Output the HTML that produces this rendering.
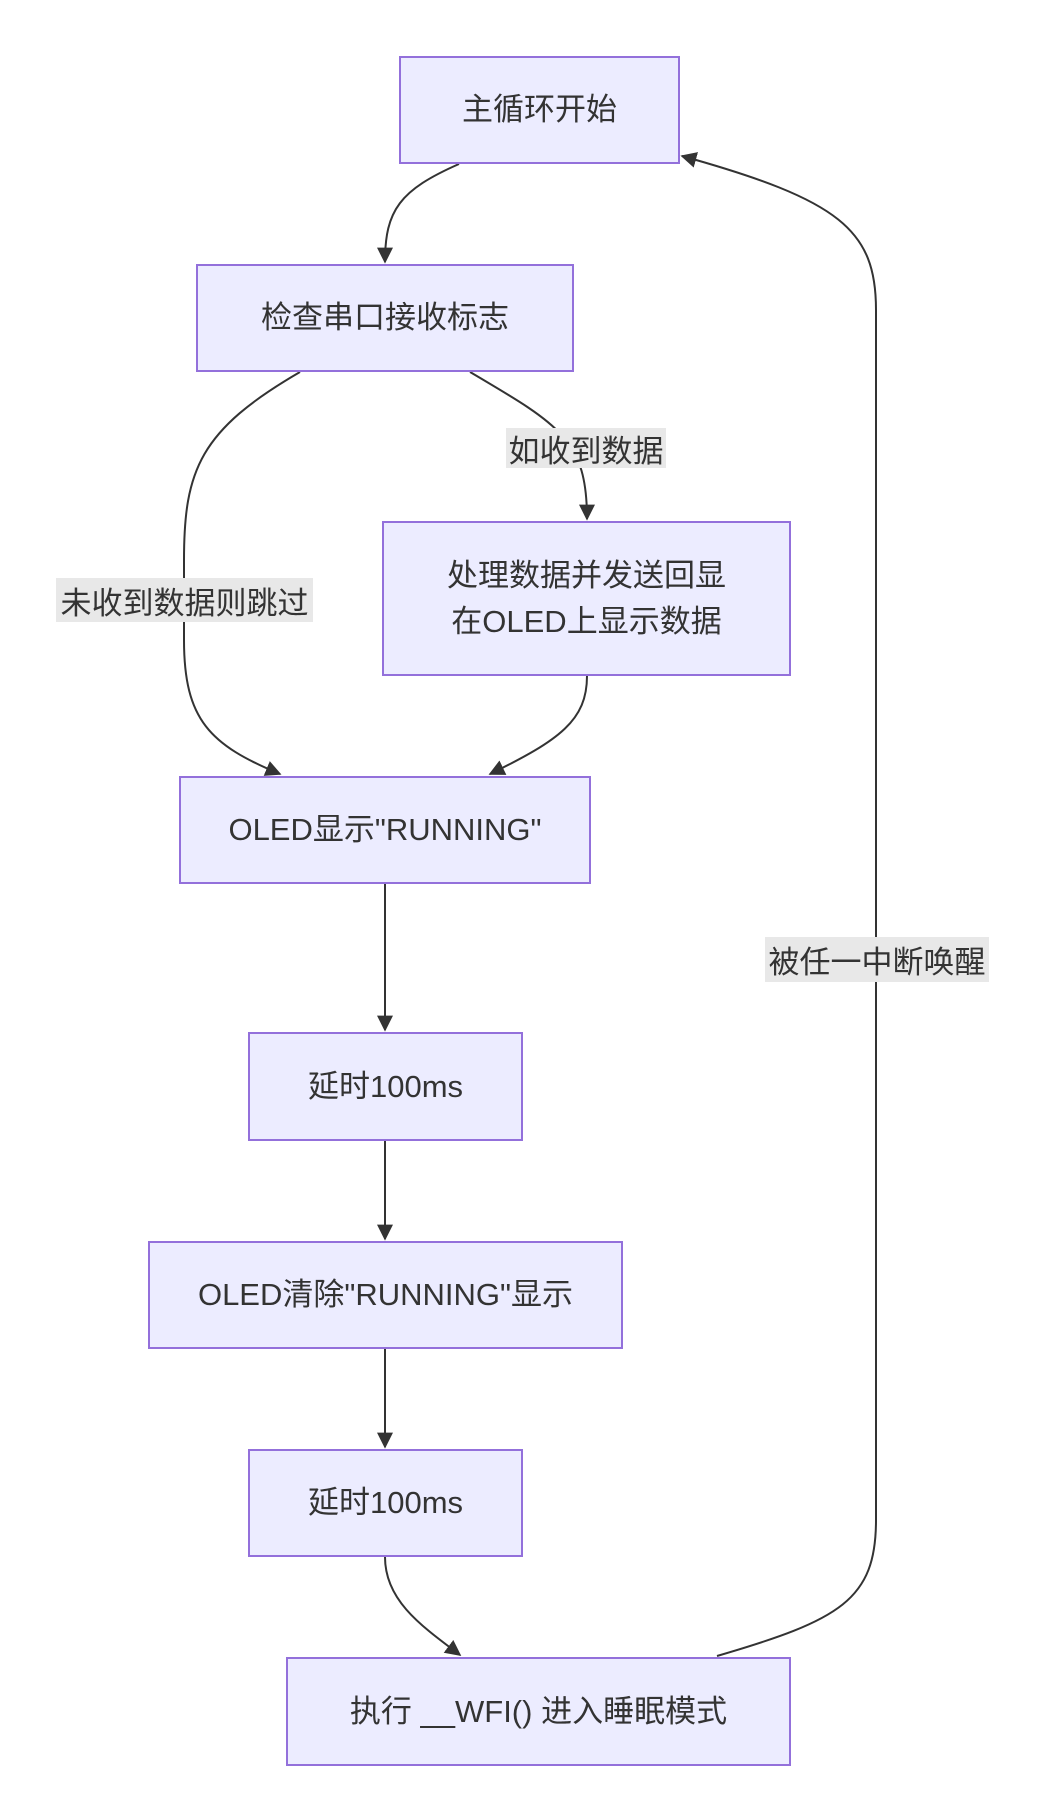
<!DOCTYPE html>
<html><head><meta charset="utf-8"><style>
body{margin:0;background:#fff;}
.b{position:absolute;box-sizing:border-box;background:#ECECFF;border:2px solid #9370DB;display:flex;align-items:center;justify-content:center;text-align:center;font-family:"Liberation Sans","Noto Sans CJK SC",sans-serif;font-size:31px;color:#333;line-height:46px;}
.l{position:absolute;background:#e8e8e8;font-family:"Liberation Sans","Noto Sans CJK SC",sans-serif;font-size:31px;color:#333;display:flex;align-items:center;justify-content:center;white-space:nowrap;}
</style></head><body>
<div style="position:relative;width:1044px;height:1820px;overflow:hidden">
<svg width="1044" height="1820" style="position:absolute;left:0;top:0">
<defs><marker id="a" viewBox="0 0 10 10" refX="9" refY="5" markerWidth="8" markerHeight="8" orient="auto"><path d="M0,0L10,5L0,10z" fill="#333"/></marker></defs>
<g fill="none" stroke="#333" stroke-width="2">
<path d="M459,164 C400,190 385,210 385,262" marker-end="url(#a)"/>
<path d="M300,372 C200,430 184,470 184,560 L184,640 C184,720 210,745 280,774" marker-end="url(#a)"/>
<path d="M470,372 C560,425 587,440 587,519" marker-end="url(#a)"/>
<path d="M587,676 C587,720 560,740 490,774" marker-end="url(#a)"/>
<path d="M385,884 L385,1030" marker-end="url(#a)"/>
<path d="M385,1141 L385,1239" marker-end="url(#a)"/>
<path d="M385,1349 L385,1447" marker-end="url(#a)"/>
<path d="M385,1557 C385,1600 420,1625 460,1655" marker-end="url(#a)"/>
<path d="M717,1656 C840,1620 876,1600 876,1520 L876,310 C876,230 840,200 682,156" marker-end="url(#a)"/>
</g></svg>
<div class="b" style="left:399px;top:56px;width:281px;height:108px">主循环开始</div>
<div class="b" style="left:196px;top:264px;width:378px;height:108px">检查串口接收标志</div>
<div class="b" style="left:382px;top:521px;width:409px;height:155px">处理数据并发送回显<br>在OLED上显示数据</div>
<div class="b" style="left:179px;top:776px;width:412px;height:108px">OLED显示"RUNNING"</div>
<div class="b" style="left:248px;top:1032px;width:275px;height:109px">延时100ms</div>
<div class="b" style="left:148px;top:1241px;width:475px;height:108px">OLED清除"RUNNING"显示</div>
<div class="b" style="left:248px;top:1449px;width:275px;height:108px">延时100ms</div>
<div class="b" style="left:286px;top:1657px;width:505px;height:109px">执行 __WFI() 进入睡眠模式</div>
<div class="l" style="left:506px;top:428px;width:160px;height:40px">如收到数据</div>
<div class="l" style="left:56px;top:578px;width:257px;height:44px">未收到数据则跳过</div>
<div class="l" style="left:765px;top:937px;width:224px;height:45px">被任一中断唤醒</div>
</div>
</body></html>
